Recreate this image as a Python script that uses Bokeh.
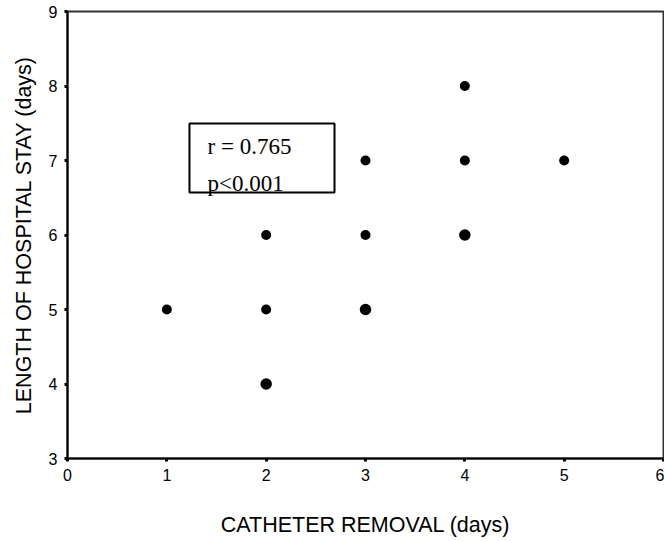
from bokeh.plotting import figure
from bokeh.models import Range1d, FixedTicker, BoxAnnotation, Label, ColumnDataSource
from bokeh.embed import file_html
from bokeh.resources import INLINE

# Data
catheter_days = [1, 2, 2, 2, 3, 3, 3, 4, 4, 4, 5]
stay_days = [5, 4, 5, 6, 5, 6, 7, 6, 7, 8, 7]
patient_count = [1, 2, 1, 1, 2, 1, 1, 2, 1, 1, 1]
x_ticks = [0, 1, 2, 3, 4, 5, 6]
y_ticks = [3, 4, 5, 6, 7, 8, 9]
stat_lines = ["r = 0.765", "p<0.001"]

sizes = [10 if c == 1 else 11.5 for c in patient_count]
src = ColumnDataSource(dict(x=catheter_days, y=stay_days, s=sizes))

p = figure(width=664, height=540, output_backend="svg", toolbar_location=None,
           x_range=Range1d(0, 6), y_range=Range1d(3, 9),
           min_border_left=67, min_border_right=1, min_border_top=11, min_border_bottom=82)
p.background_fill_color = "white"
p.border_fill_color = "white"
p.grid.visible = False
p.outline_line_color = "#333333"
p.outline_line_width = 2

for ax in (p.xaxis[0], p.yaxis[0]):
    ax.axis_line_color = "black"
    ax.axis_line_width = 2
    ax.major_tick_line_color = "black"
    ax.major_tick_line_width = 3
    ax.major_tick_in = 0
    ax.major_tick_out = 3
    ax.minor_tick_line_color = None
    ax.major_label_text_font = "Liberation Sans"
    ax.major_label_text_font_size = "16px"
    ax.major_label_text_color = "black"
    ax.axis_label_text_font = "Liberation Sans"
    ax.axis_label_text_font_size = "21.5px"
    ax.axis_label_text_font_style = "normal"
    ax.axis_label_text_color = "black"

p.xaxis.ticker = FixedTicker(ticks=x_ticks)
p.yaxis.ticker = FixedTicker(ticks=y_ticks)
p.xaxis.axis_label = "CATHETER REMOVAL (days)"
p.yaxis.axis_label = "LENGTH OF HOSPITAL STAY (days)"
p.xaxis.major_label_standoff = 7
p.yaxis.major_label_standoff = 7
p.xaxis.axis_label_standoff = 29
p.yaxis.axis_label_standoff = 10

p.scatter("x", "y", source=src, size="s", marker="circle",
          fill_color="black", line_color="black", line_width=0)

box = BoxAnnotation(left=1.228, right=2.688, bottom=6.57, top=7.497,
                    fill_color="white", fill_alpha=0.0,
                    line_color="black", line_alpha=1.0, line_width=2)
p.add_layout(box)
for txt, yy in zip(stat_lines, [7.188, 6.691]):
    p.add_layout(Label(x=1.41, y=yy, text=txt, text_font="Liberation Serif",
                       text_font_size="23px", text_color="black",
                       text_baseline="alphabetic", text_align="left"))

open("out.html", "w").write(file_html(p, INLINE))
